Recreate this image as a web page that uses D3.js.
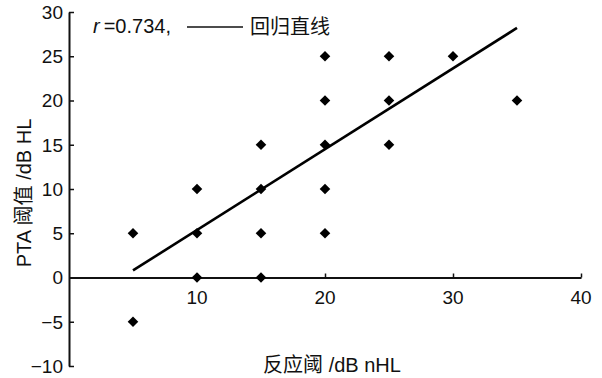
<!DOCTYPE html>
<html>
<head>
<meta charset="utf-8">
<script src="https://cdn.jsdelivr.net/npm/d3@7"></script>
<style>
  body { margin: 0; background: #fff; }
  svg text { font-family: "Liberation Sans", Arial, "Noto Sans CJK SC", sans-serif; fill: #111; }
</style>
</head>
<body>
<svg id="chart" width="602" height="378"></svg>
<script>
// data
var xVals = [5, 5, 10, 10, 10, 15, 15, 15, 15, 20, 20, 20, 20, 20, 25, 25, 25, 30, 35]
var yVals = [5, -5, 10, 5, 0, 15, 10, 5, 0, 25, 20, 15, 10, 5, 25, 20, 15, 25, 20]
// regression line end points
var lineX = [5, 35]
var lineY = [0.8, 28.2]
var xTicks = [10, 20, 30, 40]
var yTicks = [-10, -5, 0, 5, 10, 15, 20, 25, 30]

var svg = d3.select('#chart')
var x = d3.scaleLinear().domain([0, 40]).range([69, 581])
var y = d3.scaleLinear().domain([-10, 30]).range([366, 12])

// y axis at x = 0, ticks inward
var yAxis = d3.axisRight(y).tickValues(yTicks).tickSize(5).tickSizeOuter(0).tickFormat('')
var gy = svg.append('g').attr('transform', 'translate(' + x(0) + ',0)').call(yAxis)
gy.select('.domain').attr('stroke', '#111').attr('stroke-width', 2)
gy.selectAll('.tick line').attr('stroke', '#111').attr('stroke-width', 1.5)

svg.selectAll('.ylab')
  .data(yTicks)
  .enter().append('text')
  .attr('class', 'ylab')
  .attr('x', x(0) - 6)
  .attr('y', function (d) { return y(d) })
  .attr('dy', '0.36em')
  .attr('text-anchor', 'end')
  .style('font-size', '19px')
  .text(function (d) { return d < 0 ? '\u2212' + Math.abs(d) : d })

// x axis along y = 0, ticks upward
var xAxis = d3.axisTop(x).tickValues(xTicks).tickSize(4).tickSizeOuter(0).tickFormat('')
var gx = svg.append('g').attr('transform', 'translate(0,' + y(0) + ')').call(xAxis)
gx.select('.domain').attr('stroke', '#111').attr('stroke-width', 2)
gx.selectAll('.tick line').attr('stroke', '#111').attr('stroke-width', 1.5)

svg.selectAll('.xlab')
  .data(xTicks)
  .enter().append('text')
  .attr('class', 'xlab')
  .attr('x', function (d) { return x(d) })
  .attr('y', y(0) + 26)
  .attr('text-anchor', 'middle')
  .style('font-size', '19px')
  .text(function (d) { return d })

// regression line
var line = d3.line()
  .x(function (d) { return x(d[0]) })
  .y(function (d) { return y(d[1]) })
svg.append('path')
  .datum(d3.zip(lineX, lineY))
  .attr('d', line)
  .attr('fill', 'none')
  .attr('stroke', '#000')
  .attr('stroke-width', 2.6)

// points
var diamond = d3.symbol().type(d3.symbolSquare).size(56)
svg.selectAll('.pt')
  .data(d3.zip(xVals, yVals))
  .enter().append('path')
  .attr('class', 'pt')
  .attr('d', diamond)
  .attr('transform', function (d) { return 'translate(' + x(d[0]) + ',' + y(d[1]) + ') rotate(45)' })
  .attr('fill', '#000')

// annotation
var note = svg.append('text').attr('x', 93).attr('y', 33).style('font-size', '20px')
note.append('tspan').style('font-style', 'italic').text('r')
note.append('tspan').attr('dx', 4).text('=0.734,')
svg.append('line')
  .attr('x1', 187).attr('x2', 243).attr('y1', 27).attr('y2', 27)
  .attr('stroke', '#111').attr('stroke-width', 1.5)
svg.append('text').attr('x', 250).attr('y', 34)
  .style('font-size', '20px')
  .text('回归直线')

// axis titles
svg.append('text')
  .attr('x', 332).attr('y', 372)
  .attr('text-anchor', 'middle')
  .style('font-size', '20px')
  .text('反应阈 /dB nHL')

svg.append('text')
  .attr('transform', 'translate(31,193) rotate(-90)')
  .attr('text-anchor', 'middle')
  .style('font-size', '20px')
  .text('PTA 阈值 /dB HL')
</script>
</body>
</html>
